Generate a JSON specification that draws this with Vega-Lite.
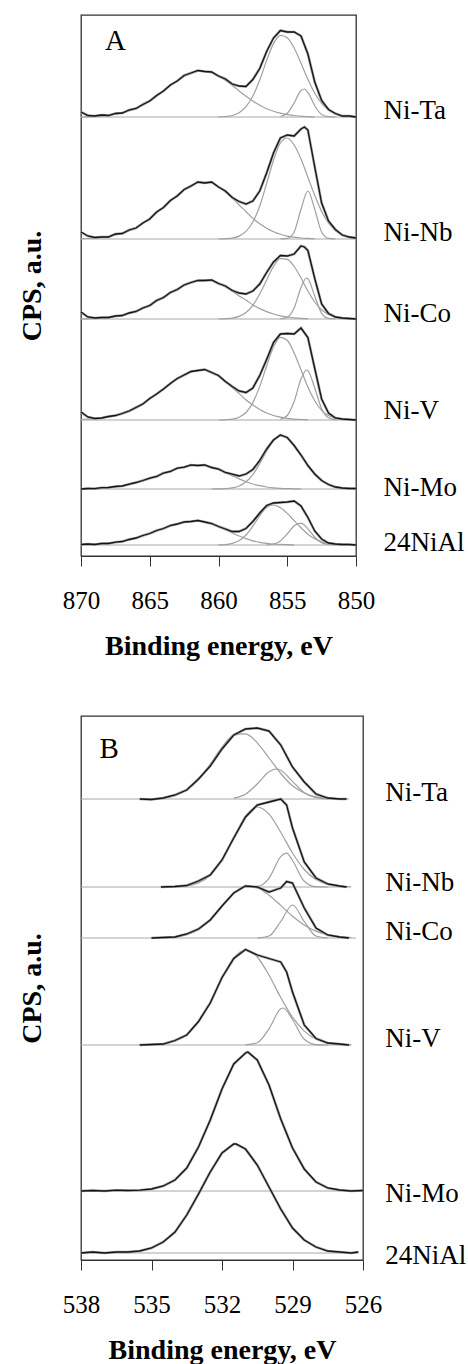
{
"$schema":"https://vega.github.io/schema/vega-lite/v6.json",
"background":"white",
"padding":{"left":17,"top":14,"right":0,"bottom":0},
"config":{"view":{"stroke":"#333","strokeWidth":1.3},"font":"Liberation Serif",
"axis":{"domainColor":"#333","tickColor":"#333","labelFont":"Liberation Serif","labelFontSize":25,"labelColor":"#000","titleFont":"Liberation Serif","titleFontSize":28,"titleFontWeight":"bold","titleColor":"#000","grid":false}},
"datasets":{
"a":[
{"s":"Ni-Ta","c":"base","x":870,"y":439},{"s":"Ni-Ta","c":"base","x":850,"y":439},
{"s":"Ni-Ta","c":"sat","x":870,"y":439},{"s":"Ni-Ta","c":"sat","x":869,"y":439.6},{"s":"Ni-Ta","c":"sat","x":868,"y":440.7},{"s":"Ni-Ta","c":"sat","x":867,"y":443},{"s":"Ni-Ta","c":"sat","x":866,"y":447.7},{"s":"Ni-Ta","c":"sat","x":865,"y":455},{"s":"Ni-Ta","c":"sat","x":864,"y":465},{"s":"Ni-Ta","c":"sat","x":863,"y":475.5},{"s":"Ni-Ta","c":"sat","x":862,"y":483},{"s":"Ni-Ta","c":"sat","x":861.5,"y":484.6},{"s":"Ni-Ta","c":"sat","x":861,"y":485},{"s":"Ni-Ta","c":"sat","x":860.5,"y":483.3},{"s":"Ni-Ta","c":"sat","x":860,"y":480.2},{"s":"Ni-Ta","c":"sat","x":859.5,"y":475.8},{"s":"Ni-Ta","c":"sat","x":859,"y":470.8},{"s":"Ni-Ta","c":"sat","x":858.5,"y":465},{"s":"Ni-Ta","c":"sat","x":858,"y":459.7},{"s":"Ni-Ta","c":"sat","x":857.5,"y":455},{"s":"Ni-Ta","c":"sat","x":857,"y":450.8},{"s":"Ni-Ta","c":"sat","x":856.5,"y":447.3},{"s":"Ni-Ta","c":"sat","x":856,"y":444.7},{"s":"Ni-Ta","c":"sat","x":855.5,"y":442.8},{"s":"Ni-Ta","c":"sat","x":855,"y":441.4},{"s":"Ni-Ta","c":"sat","x":854.5,"y":440.5},{"s":"Ni-Ta","c":"sat","x":854,"y":439.8},{"s":"Ni-Ta","c":"sat","x":853.5,"y":439.4},{"s":"Ni-Ta","c":"sat","x":853,"y":439},
{"s":"Ni-Ta","c":"main","x":860,"y":439},{"s":"Ni-Ta","c":"main","x":859.5,"y":439.5},{"s":"Ni-Ta","c":"main","x":859,"y":440.5},{"s":"Ni-Ta","c":"main","x":858.5,"y":443.3},{"s":"Ni-Ta","c":"main","x":858,"y":449.3},{"s":"Ni-Ta","c":"main","x":857.5,"y":460},{"s":"Ni-Ta","c":"main","x":857,"y":476},{"s":"Ni-Ta","c":"main","x":856.5,"y":495.6},{"s":"Ni-Ta","c":"main","x":856,"y":512.4},{"s":"Ni-Ta","c":"main","x":855.5,"y":520.7},{"s":"Ni-Ta","c":"main","x":855,"y":518.3},{"s":"Ni-Ta","c":"main","x":854.5,"y":508},{"s":"Ni-Ta","c":"main","x":854,"y":492.8},{"s":"Ni-Ta","c":"main","x":853.5,"y":476.7},{"s":"Ni-Ta","c":"main","x":853,"y":462.8},{"s":"Ni-Ta","c":"main","x":852.5,"y":452.6},{"s":"Ni-Ta","c":"main","x":852,"y":445.9},{"s":"Ni-Ta","c":"main","x":851.5,"y":442.1},{"s":"Ni-Ta","c":"main","x":851,"y":440.3},{"s":"Ni-Ta","c":"main","x":850.5,"y":439.5},{"s":"Ni-Ta","c":"main","x":850,"y":439.2},
{"s":"Ni-Ta","c":"small","x":855.5,"y":439.5},{"s":"Ni-Ta","c":"small","x":855,"y":442.7},{"s":"Ni-Ta","c":"small","x":854.5,"y":453},{"s":"Ni-Ta","c":"small","x":854,"y":465.5},{"s":"Ni-Ta","c":"small","x":853.75,"y":467},{"s":"Ni-Ta","c":"small","x":853.5,"y":463.6},{"s":"Ni-Ta","c":"small","x":853,"y":450.3},{"s":"Ni-Ta","c":"small","x":852.5,"y":441.5},{"s":"Ni-Ta","c":"small","x":852,"y":439.3},{"s":"Ni-Ta","c":"small","x":851.5,"y":439},
{"s":"Ni-Ta","c":"exp","x":870,"y":444},{"s":"Ni-Ta","c":"exp","x":869.5,"y":440.5},{"s":"Ni-Ta","c":"exp","x":869,"y":440},{"s":"Ni-Ta","c":"exp","x":868.5,"y":441},{"s":"Ni-Ta","c":"exp","x":868,"y":440.5},{"s":"Ni-Ta","c":"exp","x":867.5,"y":442.5},{"s":"Ni-Ta","c":"exp","x":867,"y":443},{"s":"Ni-Ta","c":"exp","x":866.5,"y":446},{"s":"Ni-Ta","c":"exp","x":866,"y":447.5},{"s":"Ni-Ta","c":"exp","x":865.5,"y":451.5},{"s":"Ni-Ta","c":"exp","x":865,"y":455},{"s":"Ni-Ta","c":"exp","x":864.5,"y":460.5},{"s":"Ni-Ta","c":"exp","x":864,"y":465},{"s":"Ni-Ta","c":"exp","x":863.5,"y":471},{"s":"Ni-Ta","c":"exp","x":863,"y":475},{"s":"Ni-Ta","c":"exp","x":862.5,"y":480.5},{"s":"Ni-Ta","c":"exp","x":862,"y":483},{"s":"Ni-Ta","c":"exp","x":861.5,"y":485.5},{"s":"Ni-Ta","c":"exp","x":861,"y":484.5},{"s":"Ni-Ta","c":"exp","x":860.5,"y":484},{"s":"Ni-Ta","c":"exp","x":860,"y":480},{"s":"Ni-Ta","c":"exp","x":859.5,"y":477},{"s":"Ni-Ta","c":"exp","x":859,"y":472},{"s":"Ni-Ta","c":"exp","x":858.5,"y":470},{"s":"Ni-Ta","c":"exp","x":858,"y":469.5},{"s":"Ni-Ta","c":"exp","x":857.5,"y":476.5},{"s":"Ni-Ta","c":"exp","x":857,"y":487.5},{"s":"Ni-Ta","c":"exp","x":856.5,"y":504.5},{"s":"Ni-Ta","c":"exp","x":856,"y":518},{"s":"Ni-Ta","c":"exp","x":855.5,"y":525.5},{"s":"Ni-Ta","c":"exp","x":855,"y":524},{"s":"Ni-Ta","c":"exp","x":854.5,"y":524},{"s":"Ni-Ta","c":"exp","x":854,"y":520},{"s":"Ni-Ta","c":"exp","x":853.5,"y":502},{"s":"Ni-Ta","c":"exp","x":853,"y":474},{"s":"Ni-Ta","c":"exp","x":852.5,"y":455.5},{"s":"Ni-Ta","c":"exp","x":852,"y":446.5},{"s":"Ni-Ta","c":"exp","x":851.5,"y":442.5},{"s":"Ni-Ta","c":"exp","x":851,"y":440},{"s":"Ni-Ta","c":"exp","x":850.5,"y":440},{"s":"Ni-Ta","c":"exp","x":850,"y":439},
{"s":"Ni-Nb","c":"base","x":870,"y":317},{"s":"Ni-Nb","c":"base","x":850,"y":317},
{"s":"Ni-Nb","c":"sat","x":870,"y":317.3},{"s":"Ni-Nb","c":"sat","x":869,"y":318},{"s":"Ni-Nb","c":"sat","x":868,"y":319.5},{"s":"Ni-Nb","c":"sat","x":867,"y":322.7},{"s":"Ni-Nb","c":"sat","x":866,"y":328.4},{"s":"Ni-Nb","c":"sat","x":865,"y":337.5},{"s":"Ni-Nb","c":"sat","x":864,"y":349},{"s":"Ni-Nb","c":"sat","x":863,"y":361},{"s":"Ni-Nb","c":"sat","x":862,"y":370.5},{"s":"Ni-Nb","c":"sat","x":861.5,"y":373},{"s":"Ni-Nb","c":"sat","x":861,"y":374},{"s":"Ni-Nb","c":"sat","x":860.5,"y":373},{"s":"Ni-Nb","c":"sat","x":860,"y":369.5},{"s":"Ni-Nb","c":"sat","x":859.5,"y":364},{"s":"Ni-Nb","c":"sat","x":859,"y":358},{"s":"Ni-Nb","c":"sat","x":858.5,"y":351},{"s":"Ni-Nb","c":"sat","x":858,"y":344.5},{"s":"Ni-Nb","c":"sat","x":857.5,"y":337.6},{"s":"Ni-Nb","c":"sat","x":857,"y":332.2},{"s":"Ni-Nb","c":"sat","x":856.5,"y":327.8},{"s":"Ni-Nb","c":"sat","x":856,"y":324.3},{"s":"Ni-Nb","c":"sat","x":855.5,"y":321.7},{"s":"Ni-Nb","c":"sat","x":855,"y":319.9},{"s":"Ni-Nb","c":"sat","x":854.5,"y":318.8},{"s":"Ni-Nb","c":"sat","x":854,"y":318},{"s":"Ni-Nb","c":"sat","x":853.5,"y":317.6},{"s":"Ni-Nb","c":"sat","x":853,"y":317.2},
{"s":"Ni-Nb","c":"main","x":860,"y":317},{"s":"Ni-Nb","c":"main","x":859.5,"y":317.3},{"s":"Ni-Nb","c":"main","x":859,"y":317.9},{"s":"Ni-Nb","c":"main","x":858.5,"y":319.9},{"s":"Ni-Nb","c":"main","x":858,"y":324.6},{"s":"Ni-Nb","c":"main","x":857.5,"y":334},{"s":"Ni-Nb","c":"main","x":857,"y":350},{"s":"Ni-Nb","c":"main","x":856.5,"y":372.5},{"s":"Ni-Nb","c":"main","x":856,"y":395.7},{"s":"Ni-Nb","c":"main","x":855.5,"y":413},{"s":"Ni-Nb","c":"main","x":855,"y":418},{"s":"Ni-Nb","c":"main","x":854.5,"y":411},{"s":"Ni-Nb","c":"main","x":854,"y":397},{"s":"Ni-Nb","c":"main","x":853.5,"y":378.8},{"s":"Ni-Nb","c":"main","x":853,"y":360.6},{"s":"Ni-Nb","c":"main","x":852.5,"y":344.5},{"s":"Ni-Nb","c":"main","x":852,"y":333},{"s":"Ni-Nb","c":"main","x":851.5,"y":325.5},{"s":"Ni-Nb","c":"main","x":851,"y":321},{"s":"Ni-Nb","c":"main","x":850.5,"y":318.7},{"s":"Ni-Nb","c":"main","x":850,"y":317.7},
{"s":"Ni-Nb","c":"small","x":855.5,"y":317},{"s":"Ni-Nb","c":"small","x":855,"y":317.6},{"s":"Ni-Nb","c":"small","x":854.5,"y":324},{"s":"Ni-Nb","c":"small","x":854,"y":346.8},{"s":"Ni-Nb","c":"small","x":853.5,"y":365},{"s":"Ni-Nb","c":"small","x":853,"y":346.8},{"s":"Ni-Nb","c":"small","x":852.5,"y":324},{"s":"Ni-Nb","c":"small","x":852,"y":317.6},{"s":"Ni-Nb","c":"small","x":851.5,"y":317},
{"s":"Ni-Nb","c":"exp","x":870,"y":324},{"s":"Ni-Nb","c":"exp","x":869.5,"y":320},{"s":"Ni-Nb","c":"exp","x":869,"y":318.5},{"s":"Ni-Nb","c":"exp","x":868.5,"y":319},{"s":"Ni-Nb","c":"exp","x":868,"y":319},{"s":"Ni-Nb","c":"exp","x":867.5,"y":322},{"s":"Ni-Nb","c":"exp","x":867,"y":322.5},{"s":"Ni-Nb","c":"exp","x":866.5,"y":326},{"s":"Ni-Nb","c":"exp","x":866,"y":328},{"s":"Ni-Nb","c":"exp","x":865.5,"y":333},{"s":"Ni-Nb","c":"exp","x":865,"y":337},{"s":"Ni-Nb","c":"exp","x":864.5,"y":344},{"s":"Ni-Nb","c":"exp","x":864,"y":348.5},{"s":"Ni-Nb","c":"exp","x":863.5,"y":355.5},{"s":"Ni-Nb","c":"exp","x":863,"y":360},{"s":"Ni-Nb","c":"exp","x":862.5,"y":366.5},{"s":"Ni-Nb","c":"exp","x":862,"y":370},{"s":"Ni-Nb","c":"exp","x":861.5,"y":374},{"s":"Ni-Nb","c":"exp","x":861,"y":373},{"s":"Ni-Nb","c":"exp","x":860.5,"y":374},{"s":"Ni-Nb","c":"exp","x":860,"y":369},{"s":"Ni-Nb","c":"exp","x":859.5,"y":365},{"s":"Ni-Nb","c":"exp","x":859,"y":358.5},{"s":"Ni-Nb","c":"exp","x":858.5,"y":354.5},{"s":"Ni-Nb","c":"exp","x":858,"y":352},{"s":"Ni-Nb","c":"exp","x":857.5,"y":355},{"s":"Ni-Nb","c":"exp","x":857,"y":365},{"s":"Ni-Nb","c":"exp","x":856.5,"y":383},{"s":"Ni-Nb","c":"exp","x":856,"y":403},{"s":"Ni-Nb","c":"exp","x":855.5,"y":418},{"s":"Ni-Nb","c":"exp","x":855,"y":421},{"s":"Ni-Nb","c":"exp","x":854.5,"y":420},{"s":"Ni-Nb","c":"exp","x":854,"y":427},{"s":"Ni-Nb","c":"exp","x":853.75,"y":429},{"s":"Ni-Nb","c":"exp","x":853.5,"y":426},{"s":"Ni-Nb","c":"exp","x":853,"y":389},{"s":"Ni-Nb","c":"exp","x":852.5,"y":353},{"s":"Ni-Nb","c":"exp","x":852,"y":335},{"s":"Ni-Nb","c":"exp","x":851.5,"y":326.5},{"s":"Ni-Nb","c":"exp","x":851,"y":321},{"s":"Ni-Nb","c":"exp","x":850.5,"y":319},{"s":"Ni-Nb","c":"exp","x":850,"y":318},
{"s":"Ni-Co","c":"base","x":870,"y":237},{"s":"Ni-Co","c":"base","x":850,"y":237},
{"s":"Ni-Co","c":"sat","x":870,"y":237.2},{"s":"Ni-Co","c":"sat","x":869,"y":237.7},{"s":"Ni-Co","c":"sat","x":868,"y":238.7},{"s":"Ni-Co","c":"sat","x":867,"y":240.9},{"s":"Ni-Co","c":"sat","x":866,"y":244.8},{"s":"Ni-Co","c":"sat","x":865,"y":251},{"s":"Ni-Co","c":"sat","x":864,"y":259},{"s":"Ni-Co","c":"sat","x":863,"y":267},{"s":"Ni-Co","c":"sat","x":862,"y":273.6},{"s":"Ni-Co","c":"sat","x":861.5,"y":275.3},{"s":"Ni-Co","c":"sat","x":861,"y":276},{"s":"Ni-Co","c":"sat","x":860.5,"y":275.3},{"s":"Ni-Co","c":"sat","x":860,"y":273},{"s":"Ni-Co","c":"sat","x":859.5,"y":269},{"s":"Ni-Co","c":"sat","x":859,"y":265},{"s":"Ni-Co","c":"sat","x":858.5,"y":260},{"s":"Ni-Co","c":"sat","x":858,"y":256},{"s":"Ni-Co","c":"sat","x":857.5,"y":251},{"s":"Ni-Co","c":"sat","x":857,"y":247.4},{"s":"Ni-Co","c":"sat","x":856.5,"y":244.4},{"s":"Ni-Co","c":"sat","x":856,"y":242},{"s":"Ni-Co","c":"sat","x":855.5,"y":240.2},{"s":"Ni-Co","c":"sat","x":855,"y":239},{"s":"Ni-Co","c":"sat","x":854.5,"y":238.2},{"s":"Ni-Co","c":"sat","x":854,"y":237.7},{"s":"Ni-Co","c":"sat","x":853.5,"y":237.2},
{"s":"Ni-Co","c":"main","x":860,"y":237},{"s":"Ni-Co","c":"main","x":859.5,"y":237.3},{"s":"Ni-Co","c":"main","x":859,"y":237.9},{"s":"Ni-Co","c":"main","x":858.5,"y":239.6},{"s":"Ni-Co","c":"main","x":858,"y":243.5},{"s":"Ni-Co","c":"main","x":857.5,"y":250.7},{"s":"Ni-Co","c":"main","x":857,"y":262},{"s":"Ni-Co","c":"main","x":856.5,"y":276},{"s":"Ni-Co","c":"main","x":856,"y":289.5},{"s":"Ni-Co","c":"main","x":855.5,"y":297.3},{"s":"Ni-Co","c":"main","x":855,"y":296.7},{"s":"Ni-Co","c":"main","x":854.5,"y":289.5},{"s":"Ni-Co","c":"main","x":854,"y":278},{"s":"Ni-Co","c":"main","x":853.5,"y":265},{"s":"Ni-Co","c":"main","x":853,"y":254},{"s":"Ni-Co","c":"main","x":852.5,"y":246.3},{"s":"Ni-Co","c":"main","x":852,"y":241.5},{"s":"Ni-Co","c":"main","x":851.5,"y":239},{"s":"Ni-Co","c":"main","x":851,"y":237.7},{"s":"Ni-Co","c":"main","x":850.5,"y":237.2},
{"s":"Ni-Co","c":"small","x":855.5,"y":237.2},{"s":"Ni-Co","c":"small","x":855,"y":238.6},{"s":"Ni-Co","c":"small","x":854.5,"y":247.9},{"s":"Ni-Co","c":"small","x":854,"y":268.5},{"s":"Ni-Co","c":"small","x":853.6,"y":278},{"s":"Ni-Co","c":"small","x":853.5,"y":277.3},{"s":"Ni-Co","c":"small","x":853,"y":259.8},{"s":"Ni-Co","c":"small","x":852.5,"y":242.7},{"s":"Ni-Co","c":"small","x":852,"y":237.6},{"s":"Ni-Co","c":"small","x":851.5,"y":237},
{"s":"Ni-Co","c":"exp","x":870,"y":244},{"s":"Ni-Co","c":"exp","x":869.5,"y":239},{"s":"Ni-Co","c":"exp","x":869,"y":238},{"s":"Ni-Co","c":"exp","x":868.5,"y":238.5},{"s":"Ni-Co","c":"exp","x":868,"y":238.5},{"s":"Ni-Co","c":"exp","x":867.5,"y":240},{"s":"Ni-Co","c":"exp","x":867,"y":240.5},{"s":"Ni-Co","c":"exp","x":866.5,"y":243},{"s":"Ni-Co","c":"exp","x":866,"y":244.5},{"s":"Ni-Co","c":"exp","x":865.5,"y":248},{"s":"Ni-Co","c":"exp","x":865,"y":250.5},{"s":"Ni-Co","c":"exp","x":864.5,"y":255.5},{"s":"Ni-Co","c":"exp","x":864,"y":258.5},{"s":"Ni-Co","c":"exp","x":863.5,"y":263.5},{"s":"Ni-Co","c":"exp","x":863,"y":266.5},{"s":"Ni-Co","c":"exp","x":862.5,"y":271},{"s":"Ni-Co","c":"exp","x":862,"y":273.5},{"s":"Ni-Co","c":"exp","x":861.5,"y":275.5},{"s":"Ni-Co","c":"exp","x":861,"y":275.5},{"s":"Ni-Co","c":"exp","x":860.5,"y":276},{"s":"Ni-Co","c":"exp","x":860,"y":272.5},{"s":"Ni-Co","c":"exp","x":859.5,"y":270},{"s":"Ni-Co","c":"exp","x":859,"y":265.5},{"s":"Ni-Co","c":"exp","x":858.5,"y":263},{"s":"Ni-Co","c":"exp","x":858,"y":262},{"s":"Ni-Co","c":"exp","x":857.5,"y":265},{"s":"Ni-Co","c":"exp","x":857,"y":272},{"s":"Ni-Co","c":"exp","x":856.5,"y":283.5},{"s":"Ni-Co","c":"exp","x":856,"y":294},{"s":"Ni-Co","c":"exp","x":855.5,"y":300.5},{"s":"Ni-Co","c":"exp","x":855,"y":300},{"s":"Ni-Co","c":"exp","x":854.5,"y":302},{"s":"Ni-Co","c":"exp","x":854,"y":310},{"s":"Ni-Co","c":"exp","x":853.75,"y":309},{"s":"Ni-Co","c":"exp","x":853.5,"y":305.5},{"s":"Ni-Co","c":"exp","x":853,"y":277.5},{"s":"Ni-Co","c":"exp","x":852.5,"y":252},{"s":"Ni-Co","c":"exp","x":852,"y":242.5},{"s":"Ni-Co","c":"exp","x":851.5,"y":239},{"s":"Ni-Co","c":"exp","x":851,"y":238},{"s":"Ni-Co","c":"exp","x":850.5,"y":237.5},{"s":"Ni-Co","c":"exp","x":850,"y":237},
{"s":"Ni-V","c":"base","x":870,"y":136},{"s":"Ni-V","c":"base","x":850,"y":136},
{"s":"Ni-V","c":"sat","x":870,"y":136.5},{"s":"Ni-V","c":"sat","x":869,"y":137.3},{"s":"Ni-V","c":"sat","x":868,"y":139.1},{"s":"Ni-V","c":"sat","x":867,"y":142.6},{"s":"Ni-V","c":"sat","x":866,"y":148.5},{"s":"Ni-V","c":"sat","x":865,"y":157},{"s":"Ni-V","c":"sat","x":864,"y":167.4},{"s":"Ni-V","c":"sat","x":863,"y":177},{"s":"Ni-V","c":"sat","x":862,"y":184},{"s":"Ni-V","c":"sat","x":861.5,"y":185.7},{"s":"Ni-V","c":"sat","x":861,"y":186},{"s":"Ni-V","c":"sat","x":860.5,"y":183.9},{"s":"Ni-V","c":"sat","x":860,"y":180},{"s":"Ni-V","c":"sat","x":859.5,"y":174.7},{"s":"Ni-V","c":"sat","x":859,"y":168.5},{"s":"Ni-V","c":"sat","x":858.5,"y":162.4},{"s":"Ni-V","c":"sat","x":858,"y":156},{"s":"Ni-V","c":"sat","x":857.5,"y":151},{"s":"Ni-V","c":"sat","x":857,"y":146.5},{"s":"Ni-V","c":"sat","x":856.5,"y":143},{"s":"Ni-V","c":"sat","x":856,"y":140.5},{"s":"Ni-V","c":"sat","x":855.5,"y":138.8},{"s":"Ni-V","c":"sat","x":855,"y":137.7},{"s":"Ni-V","c":"sat","x":854.5,"y":136.9},{"s":"Ni-V","c":"sat","x":854,"y":136.5},{"s":"Ni-V","c":"sat","x":853.5,"y":136.2},
{"s":"Ni-V","c":"main","x":860,"y":136},{"s":"Ni-V","c":"main","x":859.5,"y":136.2},{"s":"Ni-V","c":"main","x":859,"y":136.8},{"s":"Ni-V","c":"main","x":858.5,"y":138.8},{"s":"Ni-V","c":"main","x":858,"y":143.5},{"s":"Ni-V","c":"main","x":857.5,"y":153.4},{"s":"Ni-V","c":"main","x":857,"y":169.6},{"s":"Ni-V","c":"main","x":856.5,"y":190},{"s":"Ni-V","c":"main","x":856,"y":209},{"s":"Ni-V","c":"main","x":855.5,"y":218.7},{"s":"Ni-V","c":"main","x":855,"y":215.7},{"s":"Ni-V","c":"main","x":854.5,"y":203},{"s":"Ni-V","c":"main","x":854,"y":186.3},{"s":"Ni-V","c":"main","x":853.5,"y":169},{"s":"Ni-V","c":"main","x":853,"y":155.3},{"s":"Ni-V","c":"main","x":852.5,"y":145.7},{"s":"Ni-V","c":"main","x":852,"y":140.4},{"s":"Ni-V","c":"main","x":851.5,"y":137.7},{"s":"Ni-V","c":"main","x":851,"y":136.6},{"s":"Ni-V","c":"main","x":850.5,"y":136.2},
{"s":"Ni-V","c":"small","x":855.5,"y":136.6},{"s":"Ni-V","c":"small","x":855,"y":140.5},{"s":"Ni-V","c":"small","x":854.5,"y":154.5},{"s":"Ni-V","c":"small","x":854,"y":177},{"s":"Ni-V","c":"small","x":853.6,"y":186},{"s":"Ni-V","c":"small","x":853.5,"y":185.4},{"s":"Ni-V","c":"small","x":853,"y":168},{"s":"Ni-V","c":"small","x":852.5,"y":147.3},{"s":"Ni-V","c":"small","x":852,"y":138.2},{"s":"Ni-V","c":"small","x":851.5,"y":136.2},
{"s":"Ni-V","c":"exp","x":870,"y":144},{"s":"Ni-V","c":"exp","x":869.5,"y":139},{"s":"Ni-V","c":"exp","x":869,"y":137.5},{"s":"Ni-V","c":"exp","x":868.5,"y":138},{"s":"Ni-V","c":"exp","x":868,"y":139.5},{"s":"Ni-V","c":"exp","x":867.5,"y":140.5},{"s":"Ni-V","c":"exp","x":867,"y":142.5},{"s":"Ni-V","c":"exp","x":866.5,"y":145},{"s":"Ni-V","c":"exp","x":866,"y":148.5},{"s":"Ni-V","c":"exp","x":865.5,"y":152},{"s":"Ni-V","c":"exp","x":865,"y":157.5},{"s":"Ni-V","c":"exp","x":864.5,"y":162},{"s":"Ni-V","c":"exp","x":864,"y":167},{"s":"Ni-V","c":"exp","x":863.5,"y":172.5},{"s":"Ni-V","c":"exp","x":863,"y":177.5},{"s":"Ni-V","c":"exp","x":862.5,"y":181},{"s":"Ni-V","c":"exp","x":862,"y":184.5},{"s":"Ni-V","c":"exp","x":861.5,"y":185.5},{"s":"Ni-V","c":"exp","x":861,"y":186.5},{"s":"Ni-V","c":"exp","x":860.5,"y":183.5},{"s":"Ni-V","c":"exp","x":860,"y":180.5},{"s":"Ni-V","c":"exp","x":859.5,"y":174.5},{"s":"Ni-V","c":"exp","x":859,"y":169.5},{"s":"Ni-V","c":"exp","x":858.5,"y":165},{"s":"Ni-V","c":"exp","x":858,"y":163.5},{"s":"Ni-V","c":"exp","x":857.5,"y":168},{"s":"Ni-V","c":"exp","x":857,"y":180.5},{"s":"Ni-V","c":"exp","x":856.5,"y":196.5},{"s":"Ni-V","c":"exp","x":856,"y":213.5},{"s":"Ni-V","c":"exp","x":855.5,"y":222},{"s":"Ni-V","c":"exp","x":855,"y":222.5},{"s":"Ni-V","c":"exp","x":854.5,"y":222},{"s":"Ni-V","c":"exp","x":854,"y":228},{"s":"Ni-V","c":"exp","x":853.5,"y":218.5},{"s":"Ni-V","c":"exp","x":853,"y":187.5},{"s":"Ni-V","c":"exp","x":852.5,"y":157},{"s":"Ni-V","c":"exp","x":852,"y":143},{"s":"Ni-V","c":"exp","x":851.5,"y":138},{"s":"Ni-V","c":"exp","x":851,"y":137},{"s":"Ni-V","c":"exp","x":850.5,"y":136.5},{"s":"Ni-V","c":"exp","x":850,"y":136},
{"s":"Ni-Mo","c":"base","x":870,"y":67},{"s":"Ni-Mo","c":"base","x":850,"y":67},
{"s":"Ni-Mo","c":"sat","x":870,"y":67.2},{"s":"Ni-Mo","c":"sat","x":869,"y":67.6},{"s":"Ni-Mo","c":"sat","x":868,"y":68.5},{"s":"Ni-Mo","c":"sat","x":867,"y":70.2},{"s":"Ni-Mo","c":"sat","x":866,"y":73.3},{"s":"Ni-Mo","c":"sat","x":865,"y":77.5},{"s":"Ni-Mo","c":"sat","x":864,"y":82.6},{"s":"Ni-Mo","c":"sat","x":863,"y":87.4},{"s":"Ni-Mo","c":"sat","x":862,"y":90.5},{"s":"Ni-Mo","c":"sat","x":861.5,"y":91},{"s":"Ni-Mo","c":"sat","x":861,"y":90.6},{"s":"Ni-Mo","c":"sat","x":860.5,"y":89},{"s":"Ni-Mo","c":"sat","x":860,"y":86.6},{"s":"Ni-Mo","c":"sat","x":859.5,"y":83.5},{"s":"Ni-Mo","c":"sat","x":859,"y":80.3},{"s":"Ni-Mo","c":"sat","x":858.5,"y":77.1},{"s":"Ni-Mo","c":"sat","x":858,"y":74.3},{"s":"Ni-Mo","c":"sat","x":857.5,"y":72},{"s":"Ni-Mo","c":"sat","x":857,"y":70.3},{"s":"Ni-Mo","c":"sat","x":856.5,"y":69},{"s":"Ni-Mo","c":"sat","x":856,"y":68.2},{"s":"Ni-Mo","c":"sat","x":855.5,"y":67.7},{"s":"Ni-Mo","c":"sat","x":855,"y":67.4},{"s":"Ni-Mo","c":"sat","x":854.5,"y":67.2},{"s":"Ni-Mo","c":"sat","x":854,"y":67},
{"s":"Ni-Mo","c":"main","x":860.5,"y":67},{"s":"Ni-Mo","c":"main","x":860,"y":67.1},{"s":"Ni-Mo","c":"main","x":859.5,"y":67.3},{"s":"Ni-Mo","c":"main","x":859,"y":68.1},{"s":"Ni-Mo","c":"main","x":858.5,"y":70},{"s":"Ni-Mo","c":"main","x":858,"y":74.2},{"s":"Ni-Mo","c":"main","x":857.5,"y":81.4},{"s":"Ni-Mo","c":"main","x":857,"y":92.5},{"s":"Ni-Mo","c":"main","x":856.5,"y":104.7},{"s":"Ni-Mo","c":"main","x":856,"y":115.2},{"s":"Ni-Mo","c":"main","x":855.5,"y":120},{"s":"Ni-Mo","c":"main","x":855,"y":117.8},{"s":"Ni-Mo","c":"main","x":854.5,"y":110.6},{"s":"Ni-Mo","c":"main","x":854,"y":100.7},{"s":"Ni-Mo","c":"main","x":853.5,"y":90.6},{"s":"Ni-Mo","c":"main","x":853,"y":81.7},{"s":"Ni-Mo","c":"main","x":852.5,"y":75.2},{"s":"Ni-Mo","c":"main","x":852,"y":71.1},{"s":"Ni-Mo","c":"main","x":851.5,"y":68.9},{"s":"Ni-Mo","c":"main","x":851,"y":67.8},{"s":"Ni-Mo","c":"main","x":850.5,"y":67.3},{"s":"Ni-Mo","c":"main","x":850,"y":67.1},
{"s":"Ni-Mo","c":"exp","x":870,"y":67},{"s":"Ni-Mo","c":"exp","x":869.5,"y":67.5},{"s":"Ni-Mo","c":"exp","x":869,"y":67.3},{"s":"Ni-Mo","c":"exp","x":868.5,"y":68.3},{"s":"Ni-Mo","c":"exp","x":868,"y":68.5},{"s":"Ni-Mo","c":"exp","x":867.5,"y":69.5},{"s":"Ni-Mo","c":"exp","x":867,"y":70},{"s":"Ni-Mo","c":"exp","x":866.5,"y":71.8},{"s":"Ni-Mo","c":"exp","x":866,"y":73.5},{"s":"Ni-Mo","c":"exp","x":865.5,"y":75.5},{"s":"Ni-Mo","c":"exp","x":865,"y":77.8},{"s":"Ni-Mo","c":"exp","x":864.5,"y":79.5},{"s":"Ni-Mo","c":"exp","x":864,"y":83},{"s":"Ni-Mo","c":"exp","x":863.5,"y":84.5},{"s":"Ni-Mo","c":"exp","x":863,"y":87.8},{"s":"Ni-Mo","c":"exp","x":862.5,"y":88.8},{"s":"Ni-Mo","c":"exp","x":862,"y":91},{"s":"Ni-Mo","c":"exp","x":861.5,"y":90.5},{"s":"Ni-Mo","c":"exp","x":861,"y":91},{"s":"Ni-Mo","c":"exp","x":860.5,"y":88.5},{"s":"Ni-Mo","c":"exp","x":860,"y":87},{"s":"Ni-Mo","c":"exp","x":859.5,"y":83.5},{"s":"Ni-Mo","c":"exp","x":859,"y":81.8},{"s":"Ni-Mo","c":"exp","x":858.5,"y":80},{"s":"Ni-Mo","c":"exp","x":858,"y":82},{"s":"Ni-Mo","c":"exp","x":857.5,"y":86.5},{"s":"Ni-Mo","c":"exp","x":857,"y":95.5},{"s":"Ni-Mo","c":"exp","x":856.5,"y":107},{"s":"Ni-Mo","c":"exp","x":856,"y":116},{"s":"Ni-Mo","c":"exp","x":855.5,"y":121},{"s":"Ni-Mo","c":"exp","x":855,"y":118.5},{"s":"Ni-Mo","c":"exp","x":854.5,"y":110.5},{"s":"Ni-Mo","c":"exp","x":854,"y":101},{"s":"Ni-Mo","c":"exp","x":853.5,"y":90.5},{"s":"Ni-Mo","c":"exp","x":853,"y":82},{"s":"Ni-Mo","c":"exp","x":852.5,"y":75.5},{"s":"Ni-Mo","c":"exp","x":852,"y":71.5},{"s":"Ni-Mo","c":"exp","x":851.5,"y":69},{"s":"Ni-Mo","c":"exp","x":851,"y":68},{"s":"Ni-Mo","c":"exp","x":850.5,"y":67.5},{"s":"Ni-Mo","c":"exp","x":850,"y":67.5},
{"s":"24NiAl","c":"base","x":870,"y":11},{"s":"24NiAl","c":"base","x":850,"y":11},
{"s":"24NiAl","c":"sat","x":870,"y":11.3},{"s":"24NiAl","c":"sat","x":869,"y":11.8},{"s":"24NiAl","c":"sat","x":868,"y":12.8},{"s":"24NiAl","c":"sat","x":867,"y":14.7},{"s":"24NiAl","c":"sat","x":866,"y":18},{"s":"24NiAl","c":"sat","x":865,"y":22.5},{"s":"24NiAl","c":"sat","x":864,"y":27.6},{"s":"24NiAl","c":"sat","x":863,"y":32.2},{"s":"24NiAl","c":"sat","x":862,"y":34.8},{"s":"24NiAl","c":"sat","x":861.5,"y":35},{"s":"24NiAl","c":"sat","x":861,"y":34.1},{"s":"24NiAl","c":"sat","x":860.5,"y":32.2},{"s":"24NiAl","c":"sat","x":860,"y":29.4},{"s":"24NiAl","c":"sat","x":859.5,"y":26.3},{"s":"24NiAl","c":"sat","x":859,"y":23},{"s":"24NiAl","c":"sat","x":858.5,"y":20},{"s":"24NiAl","c":"sat","x":858,"y":17.4},{"s":"24NiAl","c":"sat","x":857.5,"y":15.2},{"s":"24NiAl","c":"sat","x":857,"y":13.7},{"s":"24NiAl","c":"sat","x":856.5,"y":12.7},{"s":"24NiAl","c":"sat","x":856,"y":12},{"s":"24NiAl","c":"sat","x":855.5,"y":11.6},{"s":"24NiAl","c":"sat","x":855,"y":11.3},{"s":"24NiAl","c":"sat","x":854.5,"y":11.1},
{"s":"24NiAl","c":"main","x":860,"y":11.1},{"s":"24NiAl","c":"main","x":859.5,"y":11.4},{"s":"24NiAl","c":"main","x":859,"y":12.6},{"s":"24NiAl","c":"main","x":858.5,"y":15.4},{"s":"24NiAl","c":"main","x":858,"y":21},{"s":"24NiAl","c":"main","x":857.5,"y":29.9},{"s":"24NiAl","c":"main","x":857,"y":40.3},{"s":"24NiAl","c":"main","x":856.5,"y":48.5},{"s":"24NiAl","c":"main","x":856,"y":51},{"s":"24NiAl","c":"main","x":855.5,"y":48.3},{"s":"24NiAl","c":"main","x":855,"y":42.6},{"s":"24NiAl","c":"main","x":854.5,"y":35.4},{"s":"24NiAl","c":"main","x":854,"y":28.3},{"s":"24NiAl","c":"main","x":853.5,"y":21.8},{"s":"24NiAl","c":"main","x":853,"y":17.3},{"s":"24NiAl","c":"main","x":852.5,"y":14.3},{"s":"24NiAl","c":"main","x":852,"y":12.6},{"s":"24NiAl","c":"main","x":851.5,"y":11.7},{"s":"24NiAl","c":"main","x":851,"y":11.2},
{"s":"24NiAl","c":"small","x":856.5,"y":11},{"s":"24NiAl","c":"small","x":856,"y":12},{"s":"24NiAl","c":"small","x":855.5,"y":15.1},{"s":"24NiAl","c":"small","x":855,"y":22},{"s":"24NiAl","c":"small","x":854.5,"y":30.2},{"s":"24NiAl","c":"small","x":854,"y":32.8},{"s":"24NiAl","c":"small","x":853.5,"y":27.1},{"s":"24NiAl","c":"small","x":853,"y":18.8},{"s":"24NiAl","c":"small","x":852.5,"y":13.4},{"s":"24NiAl","c":"small","x":852,"y":11.5},{"s":"24NiAl","c":"small","x":851.5,"y":11},
{"s":"24NiAl","c":"exp","x":870,"y":11.5},{"s":"24NiAl","c":"exp","x":869.5,"y":12},{"s":"24NiAl","c":"exp","x":869,"y":11.5},{"s":"24NiAl","c":"exp","x":868.5,"y":12.5},{"s":"24NiAl","c":"exp","x":868,"y":12.5},{"s":"24NiAl","c":"exp","x":867.5,"y":13.8},{"s":"24NiAl","c":"exp","x":867,"y":14.5},{"s":"24NiAl","c":"exp","x":866.5,"y":16.5},{"s":"24NiAl","c":"exp","x":866,"y":18},{"s":"24NiAl","c":"exp","x":865.5,"y":20.5},{"s":"24NiAl","c":"exp","x":865,"y":22.5},{"s":"24NiAl","c":"exp","x":864.5,"y":25.5},{"s":"24NiAl","c":"exp","x":864,"y":27.5},{"s":"24NiAl","c":"exp","x":863.5,"y":30.5},{"s":"24NiAl","c":"exp","x":863,"y":32},{"s":"24NiAl","c":"exp","x":862.5,"y":34},{"s":"24NiAl","c":"exp","x":862,"y":34.5},{"s":"24NiAl","c":"exp","x":861.5,"y":35.5},{"s":"24NiAl","c":"exp","x":861,"y":34},{"s":"24NiAl","c":"exp","x":860.5,"y":32.5},{"s":"24NiAl","c":"exp","x":860,"y":29.5},{"s":"24NiAl","c":"exp","x":859.5,"y":27},{"s":"24NiAl","c":"exp","x":859,"y":24.5},{"s":"24NiAl","c":"exp","x":858.5,"y":24.5},{"s":"24NiAl","c":"exp","x":858,"y":27.5},{"s":"24NiAl","c":"exp","x":857.5,"y":34.5},{"s":"24NiAl","c":"exp","x":857,"y":43},{"s":"24NiAl","c":"exp","x":856.5,"y":50.5},{"s":"24NiAl","c":"exp","x":856,"y":53},{"s":"24NiAl","c":"exp","x":855.5,"y":53.5},{"s":"24NiAl","c":"exp","x":855,"y":54},{"s":"24NiAl","c":"exp","x":854.5,"y":55},{"s":"24NiAl","c":"exp","x":854,"y":50},{"s":"24NiAl","c":"exp","x":853.5,"y":38.5},{"s":"24NiAl","c":"exp","x":853,"y":25},{"s":"24NiAl","c":"exp","x":852.5,"y":17},{"s":"24NiAl","c":"exp","x":852,"y":13},{"s":"24NiAl","c":"exp","x":851.5,"y":12},{"s":"24NiAl","c":"exp","x":851,"y":11.5},{"s":"24NiAl","c":"exp","x":850.5,"y":11.5},{"s":"24NiAl","c":"exp","x":850,"y":11}
],
"b":[
{"s":"Ni-Ta","c":"base","x":538,"y":461},{"s":"Ni-Ta","c":"base","x":526.6,"y":461},
{"s":"Ni-Ta","c":"g1","x":535.5,"y":461},{"s":"Ni-Ta","c":"g1","x":535,"y":461.3},{"s":"Ni-Ta","c":"g1","x":534.5,"y":462.1},{"s":"Ni-Ta","c":"g1","x":534,"y":464.4},{"s":"Ni-Ta","c":"g1","x":533.5,"y":469.9},{"s":"Ni-Ta","c":"g1","x":533,"y":480.3},{"s":"Ni-Ta","c":"g1","x":532.5,"y":495.8},{"s":"Ni-Ta","c":"g1","x":532,"y":512.8},{"s":"Ni-Ta","c":"g1","x":531.5,"y":524.8},{"s":"Ni-Ta","c":"g1","x":531,"y":526.1},{"s":"Ni-Ta","c":"g1","x":530.5,"y":517.2},{"s":"Ni-Ta","c":"g1","x":530,"y":502},{"s":"Ni-Ta","c":"g1","x":529.5,"y":486.5},{"s":"Ni-Ta","c":"g1","x":529,"y":474.2},{"s":"Ni-Ta","c":"g1","x":528.5,"y":467},{"s":"Ni-Ta","c":"g1","x":528,"y":463.2},{"s":"Ni-Ta","c":"g1","x":527.5,"y":461.7},{"s":"Ni-Ta","c":"g1","x":527,"y":461.2},
{"s":"Ni-Ta","c":"g2","x":531.5,"y":461.9},{"s":"Ni-Ta","c":"g2","x":531,"y":465.8},{"s":"Ni-Ta","c":"g2","x":530.5,"y":476},{"s":"Ni-Ta","c":"g2","x":530,"y":488.2},{"s":"Ni-Ta","c":"g2","x":529.7,"y":491},{"s":"Ni-Ta","c":"g2","x":529.5,"y":489.7},{"s":"Ni-Ta","c":"g2","x":529,"y":478.6},{"s":"Ni-Ta","c":"g2","x":528.5,"y":467.3},{"s":"Ni-Ta","c":"g2","x":528,"y":462.3},{"s":"Ni-Ta","c":"g2","x":527.5,"y":461.2},
{"s":"Ni-Ta","c":"exp","x":535.5,"y":461},{"s":"Ni-Ta","c":"exp","x":535,"y":460.5},{"s":"Ni-Ta","c":"exp","x":534.5,"y":462},{"s":"Ni-Ta","c":"exp","x":534,"y":465},{"s":"Ni-Ta","c":"exp","x":533.5,"y":470},{"s":"Ni-Ta","c":"exp","x":533,"y":481},{"s":"Ni-Ta","c":"exp","x":532.5,"y":494},{"s":"Ni-Ta","c":"exp","x":532,"y":511},{"s":"Ni-Ta","c":"exp","x":531.5,"y":525},{"s":"Ni-Ta","c":"exp","x":531,"y":531},{"s":"Ni-Ta","c":"exp","x":530.5,"y":532},{"s":"Ni-Ta","c":"exp","x":530,"y":529},{"s":"Ni-Ta","c":"exp","x":529.5,"y":515},{"s":"Ni-Ta","c":"exp","x":529,"y":493},{"s":"Ni-Ta","c":"exp","x":528.5,"y":478},{"s":"Ni-Ta","c":"exp","x":528,"y":466},{"s":"Ni-Ta","c":"exp","x":527.5,"y":462},{"s":"Ni-Ta","c":"exp","x":527,"y":461},{"s":"Ni-Ta","c":"exp","x":526.7,"y":461},
{"s":"Ni-Nb","c":"base","x":538,"y":373},{"s":"Ni-Nb","c":"base","x":526.6,"y":373},
{"s":"Ni-Nb","c":"g1","x":534,"y":373.2},{"s":"Ni-Nb","c":"g1","x":533.5,"y":374},{"s":"Ni-Nb","c":"g1","x":533,"y":377},{"s":"Ni-Nb","c":"g1","x":532.5,"y":384.7},{"s":"Ni-Nb","c":"g1","x":532,"y":400},{"s":"Ni-Nb","c":"g1","x":531.5,"y":422.6},{"s":"Ni-Nb","c":"g1","x":531,"y":443.9},{"s":"Ni-Nb","c":"g1","x":530.5,"y":453},{"s":"Ni-Nb","c":"g1","x":530,"y":445.8},{"s":"Ni-Nb","c":"g1","x":529.5,"y":427.7},{"s":"Ni-Nb","c":"g1","x":529,"y":407},{"s":"Ni-Nb","c":"g1","x":528.5,"y":390.5},{"s":"Ni-Nb","c":"g1","x":528,"y":380.4},{"s":"Ni-Nb","c":"g1","x":527.5,"y":375.6},{"s":"Ni-Nb","c":"g1","x":527,"y":373.8},{"s":"Ni-Nb","c":"g1","x":526.5,"y":373.2},
{"s":"Ni-Nb","c":"g2","x":531,"y":373},{"s":"Ni-Nb","c":"g2","x":530.5,"y":373.6},{"s":"Ni-Nb","c":"g2","x":530,"y":381.7},{"s":"Ni-Nb","c":"g2","x":529.5,"y":403.4},{"s":"Ni-Nb","c":"g2","x":529.25,"y":406.8},{"s":"Ni-Nb","c":"g2","x":529,"y":399.5},{"s":"Ni-Nb","c":"g2","x":528.5,"y":378.8},{"s":"Ni-Nb","c":"g2","x":528,"y":373.3},{"s":"Ni-Nb","c":"g2","x":527.5,"y":373},
{"s":"Ni-Nb","c":"exp","x":534.6,"y":373},{"s":"Ni-Nb","c":"exp","x":534,"y":373.5},{"s":"Ni-Nb","c":"exp","x":533.5,"y":374.5},{"s":"Ni-Nb","c":"exp","x":533,"y":379},{"s":"Ni-Nb","c":"exp","x":532.5,"y":385},{"s":"Ni-Nb","c":"exp","x":532,"y":400},{"s":"Ni-Nb","c":"exp","x":531.5,"y":422},{"s":"Ni-Nb","c":"exp","x":531,"y":443},{"s":"Ni-Nb","c":"exp","x":530.5,"y":455},{"s":"Ni-Nb","c":"exp","x":530,"y":458},{"s":"Ni-Nb","c":"exp","x":529.5,"y":461},{"s":"Ni-Nb","c":"exp","x":529.25,"y":455},{"s":"Ni-Nb","c":"exp","x":529,"y":432},{"s":"Ni-Nb","c":"exp","x":528.5,"y":398},{"s":"Ni-Nb","c":"exp","x":528,"y":382},{"s":"Ni-Nb","c":"exp","x":527.5,"y":376},{"s":"Ni-Nb","c":"exp","x":527,"y":374},{"s":"Ni-Nb","c":"exp","x":526.7,"y":373},
{"s":"Ni-Co","c":"base","x":538,"y":322},{"s":"Ni-Co","c":"base","x":526.3,"y":322},
{"s":"Ni-Co","c":"g1","x":534.5,"y":322.3},{"s":"Ni-Co","c":"g1","x":534,"y":323},{"s":"Ni-Co","c":"g1","x":533.5,"y":325.3},{"s":"Ni-Co","c":"g1","x":533,"y":330.5},{"s":"Ni-Co","c":"g1","x":532.5,"y":340.2},{"s":"Ni-Co","c":"g1","x":532,"y":353.5},{"s":"Ni-Co","c":"g1","x":531.5,"y":366.9},{"s":"Ni-Co","c":"g1","x":531,"y":373.8},{"s":"Ni-Co","c":"g1","x":530.5,"y":372},{"s":"Ni-Co","c":"g1","x":530,"y":364.8},{"s":"Ni-Co","c":"g1","x":529.5,"y":354.6},{"s":"Ni-Co","c":"g1","x":529,"y":343.8},{"s":"Ni-Co","c":"g1","x":528.5,"y":335.1},{"s":"Ni-Co","c":"g1","x":528,"y":328.9},{"s":"Ni-Co","c":"g1","x":527.5,"y":325.3},{"s":"Ni-Co","c":"g1","x":527,"y":323.4},{"s":"Ni-Co","c":"g1","x":526.5,"y":322.5},
{"s":"Ni-Co","c":"g2","x":530.5,"y":322},{"s":"Ni-Co","c":"g2","x":530,"y":324},{"s":"Ni-Co","c":"g2","x":529.5,"y":338.5},{"s":"Ni-Co","c":"g2","x":529,"y":355},{"s":"Ni-Co","c":"g2","x":528.5,"y":338.5},{"s":"Ni-Co","c":"g2","x":528,"y":324},{"s":"Ni-Co","c":"g2","x":527.5,"y":322},
{"s":"Ni-Co","c":"exp","x":535,"y":322},{"s":"Ni-Co","c":"exp","x":534.5,"y":322.5},{"s":"Ni-Co","c":"exp","x":534,"y":323},{"s":"Ni-Co","c":"exp","x":533.5,"y":326},{"s":"Ni-Co","c":"exp","x":533,"y":331},{"s":"Ni-Co","c":"exp","x":532.5,"y":340},{"s":"Ni-Co","c":"exp","x":532,"y":354},{"s":"Ni-Co","c":"exp","x":531.5,"y":367},{"s":"Ni-Co","c":"exp","x":531,"y":374},{"s":"Ni-Co","c":"exp","x":530.5,"y":373},{"s":"Ni-Co","c":"exp","x":530,"y":368},{"s":"Ni-Co","c":"exp","x":529.5,"y":372},{"s":"Ni-Co","c":"exp","x":529.25,"y":378.5},{"s":"Ni-Co","c":"exp","x":529,"y":377},{"s":"Ni-Co","c":"exp","x":528.5,"y":352},{"s":"Ni-Co","c":"exp","x":528,"y":332},{"s":"Ni-Co","c":"exp","x":527.5,"y":325},{"s":"Ni-Co","c":"exp","x":527,"y":323},{"s":"Ni-Co","c":"exp","x":526.6,"y":322},
{"s":"Ni-V","c":"base","x":538,"y":215},{"s":"Ni-V","c":"base","x":526.5,"y":215},
{"s":"Ni-V","c":"g1","x":535.5,"y":215.1},{"s":"Ni-V","c":"g1","x":535,"y":215.3},{"s":"Ni-V","c":"g1","x":534.5,"y":216.2},{"s":"Ni-V","c":"g1","x":534,"y":219},{"s":"Ni-V","c":"g1","x":533.5,"y":225.3},{"s":"Ni-V","c":"g1","x":533,"y":238},{"s":"Ni-V","c":"g1","x":532.5,"y":257.7},{"s":"Ni-V","c":"g1","x":532,"y":281.9},{"s":"Ni-V","c":"g1","x":531.5,"y":302},{"s":"Ni-V","c":"g1","x":531,"y":310},{"s":"Ni-V","c":"g1","x":530.5,"y":303},{"s":"Ni-V","c":"g1","x":530,"y":284.8},{"s":"Ni-V","c":"g1","x":529.5,"y":262.5},{"s":"Ni-V","c":"g1","x":529,"y":242.8},{"s":"Ni-V","c":"g1","x":528.5,"y":228.9},{"s":"Ni-V","c":"g1","x":528,"y":220.9},{"s":"Ni-V","c":"g1","x":527.5,"y":217.2},{"s":"Ni-V","c":"g1","x":527,"y":215.7},{"s":"Ni-V","c":"g1","x":526.5,"y":215.2},
{"s":"Ni-V","c":"g2","x":531,"y":215.1},{"s":"Ni-V","c":"g2","x":530.5,"y":217.3},{"s":"Ni-V","c":"g2","x":530,"y":231.2},{"s":"Ni-V","c":"g2","x":529.5,"y":251.2},{"s":"Ni-V","c":"g2","x":529.4,"y":252},{"s":"Ni-V","c":"g2","x":529,"y":240.5},{"s":"Ni-V","c":"g2","x":528.5,"y":220.7},{"s":"Ni-V","c":"g2","x":528,"y":215.4},{"s":"Ni-V","c":"g2","x":527.5,"y":215},
{"s":"Ni-V","c":"exp","x":535.5,"y":215},{"s":"Ni-V","c":"exp","x":535,"y":215.5},{"s":"Ni-V","c":"exp","x":534.5,"y":216},{"s":"Ni-V","c":"exp","x":534,"y":219.5},{"s":"Ni-V","c":"exp","x":533.5,"y":225},{"s":"Ni-V","c":"exp","x":533,"y":238.5},{"s":"Ni-V","c":"exp","x":532.5,"y":257},{"s":"Ni-V","c":"exp","x":532,"y":282.5},{"s":"Ni-V","c":"exp","x":531.5,"y":301.5},{"s":"Ni-V","c":"exp","x":531,"y":310.5},{"s":"Ni-V","c":"exp","x":530.5,"y":305},{"s":"Ni-V","c":"exp","x":530,"y":301.5},{"s":"Ni-V","c":"exp","x":529.5,"y":298},{"s":"Ni-V","c":"exp","x":529.25,"y":288},{"s":"Ni-V","c":"exp","x":529,"y":268},{"s":"Ni-V","c":"exp","x":528.5,"y":235},{"s":"Ni-V","c":"exp","x":528,"y":221.5},{"s":"Ni-V","c":"exp","x":527.5,"y":217},{"s":"Ni-V","c":"exp","x":527,"y":216},{"s":"Ni-V","c":"exp","x":526.6,"y":215},
{"s":"Ni-Mo","c":"base","x":538,"y":69},{"s":"Ni-Mo","c":"base","x":526,"y":69},
{"s":"Ni-Mo","c":"exp","x":538,"y":69},{"s":"Ni-Mo","c":"exp","x":537.5,"y":69.5},{"s":"Ni-Mo","c":"exp","x":537,"y":69},{"s":"Ni-Mo","c":"exp","x":536.5,"y":69.8},{"s":"Ni-Mo","c":"exp","x":536,"y":69.5},{"s":"Ni-Mo","c":"exp","x":535.5,"y":69.8},{"s":"Ni-Mo","c":"exp","x":535,"y":71},{"s":"Ni-Mo","c":"exp","x":534.5,"y":74},{"s":"Ni-Mo","c":"exp","x":534,"y":80},{"s":"Ni-Mo","c":"exp","x":533.5,"y":92},{"s":"Ni-Mo","c":"exp","x":533,"y":113},{"s":"Ni-Mo","c":"exp","x":532.5,"y":140},{"s":"Ni-Mo","c":"exp","x":532,"y":171},{"s":"Ni-Mo","c":"exp","x":531.5,"y":196},{"s":"Ni-Mo","c":"exp","x":531,"y":207},{"s":"Ni-Mo","c":"exp","x":530.9,"y":208},{"s":"Ni-Mo","c":"exp","x":530.5,"y":200},{"s":"Ni-Mo","c":"exp","x":530,"y":175},{"s":"Ni-Mo","c":"exp","x":529.5,"y":141},{"s":"Ni-Mo","c":"exp","x":529,"y":112},{"s":"Ni-Mo","c":"exp","x":528.5,"y":91},{"s":"Ni-Mo","c":"exp","x":528,"y":78},{"s":"Ni-Mo","c":"exp","x":527.5,"y":72},{"s":"Ni-Mo","c":"exp","x":527,"y":70},{"s":"Ni-Mo","c":"exp","x":526.5,"y":69},{"s":"Ni-Mo","c":"exp","x":526,"y":69.5},
{"s":"24NiAl","c":"base","x":538,"y":7},{"s":"24NiAl","c":"base","x":526.2,"y":7},
{"s":"24NiAl","c":"exp","x":538,"y":7},{"s":"24NiAl","c":"exp","x":537.5,"y":8},{"s":"24NiAl","c":"exp","x":537,"y":7},{"s":"24NiAl","c":"exp","x":536.5,"y":8},{"s":"24NiAl","c":"exp","x":536,"y":8},{"s":"24NiAl","c":"exp","x":535.5,"y":9},{"s":"24NiAl","c":"exp","x":535,"y":12},{"s":"24NiAl","c":"exp","x":534.5,"y":18},{"s":"24NiAl","c":"exp","x":534,"y":28},{"s":"24NiAl","c":"exp","x":533.5,"y":45},{"s":"24NiAl","c":"exp","x":533,"y":66},{"s":"24NiAl","c":"exp","x":532.5,"y":88},{"s":"24NiAl","c":"exp","x":532,"y":107},{"s":"24NiAl","c":"exp","x":531.5,"y":116},{"s":"24NiAl","c":"exp","x":531.4,"y":116},{"s":"24NiAl","c":"exp","x":531,"y":111},{"s":"24NiAl","c":"exp","x":530.5,"y":95},{"s":"24NiAl","c":"exp","x":530,"y":73},{"s":"24NiAl","c":"exp","x":529.5,"y":51},{"s":"24NiAl","c":"exp","x":529,"y":32},{"s":"24NiAl","c":"exp","x":528.5,"y":20},{"s":"24NiAl","c":"exp","x":528,"y":13},{"s":"24NiAl","c":"exp","x":527.5,"y":9},{"s":"24NiAl","c":"exp","x":527,"y":8},{"s":"24NiAl","c":"exp","x":526.5,"y":7},{"s":"24NiAl","c":"exp","x":526.2,"y":8}
],
"la":[
{"k":"lab","t":"Ni-Ta","x":848,"y":445},{"k":"lab","t":"Ni-Nb","x":848,"y":323},{"k":"lab","t":"Ni-Co","x":848,"y":242},{"k":"lab","t":"Ni-V","x":848,"y":145},{"k":"lab","t":"Ni-Mo","x":848,"y":68},{"k":"lab","t":"24NiAl","x":848,"y":13},{"k":"pan","t":"A","x":867.5,"y":515}
],
"lb":[
{"k":"lab","t":"Ni-Ta","x":525.05,"y":467},{"k":"lab","t":"Ni-Nb","x":525.05,"y":377},{"k":"lab","t":"Ni-Co","x":525.05,"y":328},{"k":"lab","t":"Ni-V","x":525.05,"y":221},{"k":"lab","t":"Ni-Mo","x":525.05,"y":66},{"k":"lab","t":"24NiAl","x":525.05,"y":4},{"k":"pan","t":"B","x":536.8,"y":511}
]
},
"spacing":54,
"vconcat":[
{
"width":275,"height":541,
"encoding":{
"x":{"field":"x","type":"quantitative","scale":{"domain":[850,870],"reverse":true,"nice":false,"zero":false},"axis":{"values":[870,865,860,855,850],"title":"Binding energy, eV","tickSize":10,"labelPadding":22,"titlePadding":19,"labelFlush":false,"labelOverlap":false,"format":"d"}},
"y":{"field":"y","type":"quantitative","scale":{"domain":[0,541],"nice":false,"zero":false},"axis":{"title":"CPS, a.u.","labels":false,"ticks":false,"domain":false,"grid":false,"titlePadding":35}}
},
"layer":[
{"data":{"name":"a"},"transform":[{"filter":"datum.c=='base'"}],"mark":{"type":"line","color":"#a8a8a8","strokeWidth":1},"encoding":{"detail":{"field":"s"}}},
{"data":{"name":"a"},"transform":[{"filter":"datum.c=='sat'||datum.c=='main'||datum.c=='small'"}],"mark":{"type":"line","color":"#a0a0a0","strokeWidth":1.2,"interpolate":"monotone"},"encoding":{"detail":[{"field":"s"},{"field":"c"}]}},
{"data":{"name":"a"},"transform":[{"filter":"datum.c=='exp'"}],"mark":{"type":"line","color":"#a3a3a3","strokeWidth":2.6},"encoding":{"detail":{"field":"s"}}},
{"data":{"name":"a"},"transform":[{"filter":"datum.c=='exp'"}],"mark":{"type":"line","color":"#151515","strokeWidth":1.3},"encoding":{"detail":{"field":"s"}}},
{"data":{"name":"la"},"transform":[{"filter":"datum.k=='lab'"}],"mark":{"type":"text","align":"left","baseline":"middle","font":"Liberation Serif","fontSize":27,"color":"#000"},"encoding":{"text":{"field":"t"}}},
{"data":{"name":"la"},"transform":[{"filter":"datum.k=='pan'"}],"mark":{"type":"text","align":"center","baseline":"middle","font":"Liberation Serif","fontSize":29,"color":"#000"},"encoding":{"text":{"field":"t"}}}
]
},
{
"width":282,"height":544,
"encoding":{
"x":{"field":"x","type":"quantitative","scale":{"domain":[526,538],"reverse":true,"nice":false,"zero":false},"axis":{"values":[538,535,532,529,526],"title":"Binding energy, eV","tickSize":10,"labelPadding":22,"titlePadding":19,"labelFlush":false,"labelOverlap":false,"format":"d"}},
"y":{"field":"y","type":"quantitative","scale":{"domain":[0,544],"nice":false,"zero":false},"axis":{"title":"CPS, a.u.","labels":false,"ticks":false,"domain":false,"grid":false,"titlePadding":35}}
},
"layer":[
{"data":{"name":"b"},"transform":[{"filter":"datum.c=='base'"}],"mark":{"type":"line","color":"#a8a8a8","strokeWidth":1},"encoding":{"detail":{"field":"s"}}},
{"data":{"name":"b"},"transform":[{"filter":"datum.c=='g1'||datum.c=='g2'"}],"mark":{"type":"line","color":"#a0a0a0","strokeWidth":1.2,"interpolate":"monotone"},"encoding":{"detail":[{"field":"s"},{"field":"c"}]}},
{"data":{"name":"b"},"transform":[{"filter":"datum.c=='exp'"}],"mark":{"type":"line","color":"#a3a3a3","strokeWidth":2.6},"encoding":{"detail":{"field":"s"}}},
{"data":{"name":"b"},"transform":[{"filter":"datum.c=='exp'"}],"mark":{"type":"line","color":"#151515","strokeWidth":1.3},"encoding":{"detail":{"field":"s"}}},
{"data":{"name":"lb"},"transform":[{"filter":"datum.k=='lab'"}],"mark":{"type":"text","align":"left","baseline":"middle","font":"Liberation Serif","fontSize":27,"color":"#000"},"encoding":{"text":{"field":"t"}}},
{"data":{"name":"lb"},"transform":[{"filter":"datum.k=='pan'"}],"mark":{"type":"text","align":"center","baseline":"middle","font":"Liberation Serif","fontSize":29,"color":"#000"},"encoding":{"text":{"field":"t"}}}
]
}
]
}
